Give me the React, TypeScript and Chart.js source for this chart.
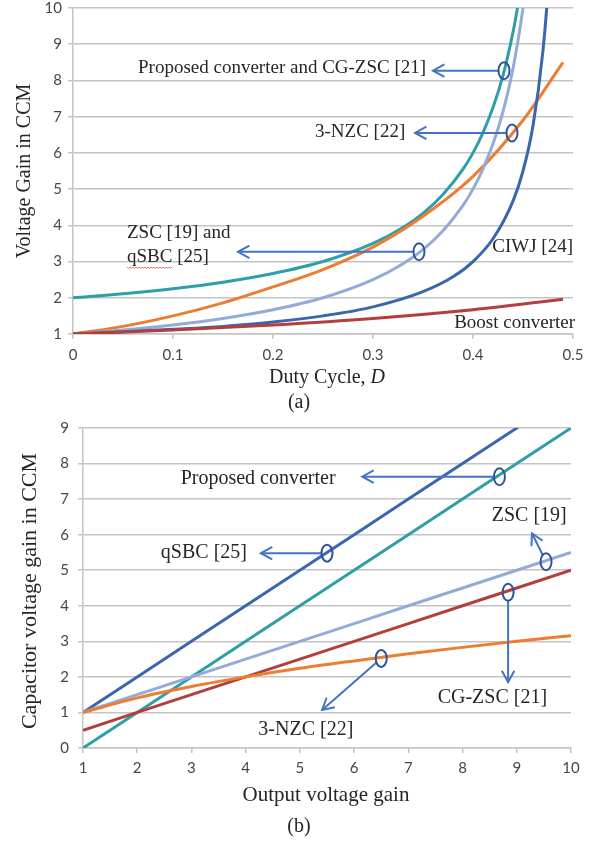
import React, { useEffect, useRef } from "react";
import { Chart, registerables } from "chart.js";

Chart.register(...registerables);

const SERIF = '"Liberation Serif", "Times New Roman", serif';
const SANS = 'Lato, "Open Sans", sans-serif';
const TEXT = "#262626";
const TICK = "#474747";
const GRID = "#c4c4c4";
const ARROW = "#4472c4";
const RING = "#2f5597";

const TEAL = "#2f9ea8";
const ORANGE = "#ec7d31";
const LIGHT_BLUE = "#93abd6";
const DARK_BLUE = "#3a67ab";
const RED = "#b23f3c";

// ---- (a) Voltage gain in CCM versus duty cycle D ----
const dutyProposed = [0, 0.05, 0.1, 0.15, 0.2, 0.25, 0.3, 0.33, 0.35, 0.37, 0.39, 0.4, 0.41, 0.42, 0.43, 0.44, 0.445, 0.45];
const gainProposed = [2.0, 2.11, 2.25, 2.43, 2.67, 3.0, 3.5, 3.94, 4.33, 4.85, 5.55, 6.0, 6.56, 7.25, 8.14, 9.33, 10.09, 11.0];

const dutyZsc = [0, 0.05, 0.1, 0.15, 0.2, 0.25, 0.3, 0.33, 0.35, 0.37, 0.39, 0.4, 0.41, 0.42, 0.43, 0.44, 0.45, 0.455];
const gainZsc = [1.0, 1.11, 1.25, 1.43, 1.67, 2.0, 2.5, 2.94, 3.33, 3.85, 4.55, 5.0, 5.56, 6.25, 7.14, 8.33, 10.0, 11.11];

const dutyNzc = [0, 0.05, 0.1, 0.15, 0.2, 0.25, 0.3, 0.35, 0.4, 0.45, 0.49];
const gainNzc = [1.0, 1.21, 1.5, 1.86, 2.3, 2.78, 3.4, 4.25, 5.35, 6.9, 8.5];

const dutyCiwj = [0, 0.05, 0.1, 0.15, 0.2, 0.25, 0.3, 0.35, 0.38, 0.4, 0.42, 0.44, 0.45, 0.46, 0.47, 0.475, 0.48];
const gainCiwj = [1.0, 1.06, 1.13, 1.21, 1.33, 1.5, 1.75, 2.17, 2.58, 3.0, 3.63, 4.67, 5.5, 6.75, 8.83, 10.5, 13.0];

const dutyBoost = [0, 0.1, 0.2, 0.3, 0.4, 0.49];
const gainBoost = [1.0, 1.11, 1.25, 1.43, 1.67, 1.96];

// ---- (b) Capacitor voltage gain versus output voltage gain ----
const outputGain = [1, 2, 3, 4, 5, 6, 7, 8, 9, 10];
const capQsbc = [1, 2, 3, 4, 5, 6, 7, 8, 9, 10];
const capProposed = [0, 1, 2, 3, 4, 5, 6, 7, 8, 9];
const capZsc = [1, 1.5, 2, 2.5, 3, 3.5, 4, 4.5, 5, 5.5];
const capCgZsc = [0.5, 1, 1.5, 2, 2.5, 3, 3.5, 4, 4.5, 5];
const capNzc = [1, 1.41, 1.73, 2, 2.24, 2.45, 2.65, 2.83, 3, 3.16];

type Pt = { x: number; y: number };
const pair = (xs: number[], ys: number[]): Pt[] => xs.map((x, i) => ({ x, y: ys[i] }));

type Note = { lines: string[]; x: number; y: number; align: CanvasTextAlign; wavy?: string };
type Pointer = { ring: [number, number]; tip: [number, number] };
type Label = { text: string; x: number; y: number; size: number; italicTail?: string };

type Frame = {
  notes: Note[];
  pointers: Pointer[];
  noteSize: number;
  lineGap: number;
  xTitle: Label;
  yTitle: Label;
  caption: Label;
};

const notesA: Note[] = [
  { lines: ["Proposed converter and CG-ZSC [21]"], x: 0.065, y: 8.33, align: "left" },
  { lines: ["3-NZC [22]"], x: 0.242, y: 6.58, align: "left" },
  { lines: ["ZSC [19] and", "qSBC [25]"], x: 0.054, y: 3.79, align: "left", wavy: "qSBC" },
  { lines: ["CIWJ [24]"], x: 0.5, y: 3.4, align: "right" },
  { lines: ["Boost converter"], x: 0.502, y: 1.3, align: "right" },
];
const pointersA: Pointer[] = [
  { ring: [0.431, 8.27], tip: [0.36, 8.27] },
  { ring: [0.439, 6.55], tip: [0.342, 6.55] },
  { ring: [0.346, 3.27], tip: [0.165, 3.27] },
];

const notesB: Note[] = [
  { lines: ["Proposed converter"], x: 4.23, y: 7.56, align: "center" },
  { lines: ["qSBC [25]"], x: 3.23, y: 5.48, align: "center" },
  { lines: ["ZSC [19]"], x: 9.23, y: 6.54, align: "center" },
  { lines: ["CG-ZSC [21]"], x: 8.55, y: 1.4, align: "center" },
  { lines: ["3-NZC [22]"], x: 5.11, y: 0.51, align: "center" },
];
const pointersB: Pointer[] = [
  { ring: [8.68, 7.63], tip: [6.15, 7.63] },
  { ring: [5.5, 5.48], tip: [4.28, 5.48] },
  { ring: [9.54, 5.24], tip: [9.28, 6.04] },
  { ring: [8.84, 4.38], tip: [8.84, 1.85] },
  { ring: [6.5, 2.52], tip: [5.41, 1.07] },
];

const RX = 5.5;
const RY = 8.5;
const HEAD = 13;

function drawLabel(ctx: CanvasRenderingContext2D, l: Label, rotate = false) {
  ctx.save();
  ctx.translate(l.x, l.y);
  if (rotate) ctx.rotate(-Math.PI / 2);
  ctx.textBaseline = "middle";
  ctx.fillStyle = TEXT;
  const normal = `${l.size}px ${SERIF}`;
  const italic = `italic ${l.size}px ${SERIF}`;
  ctx.font = normal;
  const w1 = ctx.measureText(l.text).width;
  let w2 = 0;
  if (l.italicTail) {
    ctx.font = italic;
    w2 = ctx.measureText(l.italicTail).width;
  }
  const start = -(w1 + w2) / 2;
  ctx.textAlign = "left";
  ctx.font = normal;
  ctx.fillText(l.text, start, 0);
  if (l.italicTail) {
    ctx.font = italic;
    ctx.fillText(l.italicTail, start + w1, 0);
  }
  ctx.restore();
}

const overlay = (frame: Frame) => ({
  id: "overlay",
  afterDraw(chart: any) {
    const { ctx, scales } = chart;
    const sx = scales.x;
    const sy = scales.y;
    ctx.save();

    // call-out texts
    ctx.font = `${frame.noteSize}px ${SERIF}`;
    ctx.fillStyle = TEXT;
    ctx.textBaseline = "middle";
    for (const n of frame.notes) {
      const px = sx.getPixelForValue(n.x);
      const py = sy.getPixelForValue(n.y);
      ctx.textAlign = n.align;
      n.lines.forEach((line, i) => {
        const ly = py + i * frame.lineGap;
        ctx.fillText(line, px, ly);
        if (n.wavy && line.startsWith(n.wavy)) {
          const w = ctx.measureText(n.wavy).width;
          ctx.save();
          ctx.strokeStyle = "rgba(220,70,70,0.75)";
          ctx.lineWidth = 1;
          ctx.beginPath();
          for (let k = 0; k <= w; k += 1.5) {
            const wy = ly + 10 + (Math.round(k / 1.5) % 2 === 0 ? 0 : 1.5);
            if (k === 0) ctx.moveTo(px + k, wy);
            else ctx.lineTo(px + k, wy);
          }
          ctx.stroke();
          ctx.restore();
        }
      });
    }

    // arrows with rings on the curves
    ctx.lineWidth = 2;
    for (const p of frame.pointers) {
      const cx = sx.getPixelForValue(p.ring[0]);
      const cy = sy.getPixelForValue(p.ring[1]);
      const tx = sx.getPixelForValue(p.tip[0]);
      const ty = sy.getPixelForValue(p.tip[1]);
      const dx = tx - cx;
      const dy = ty - cy;
      const len = Math.hypot(dx, dy);
      const ux = dx / len;
      const uy = dy / len;
      const t = 1 / Math.sqrt((ux / RX) ** 2 + (uy / RY) ** 2);
      ctx.strokeStyle = ARROW;
      ctx.beginPath();
      ctx.moveTo(cx + ux * t, cy + uy * t);
      ctx.lineTo(tx, ty);
      ctx.stroke();
      const back = Math.atan2(-uy, -ux);
      ctx.beginPath();
      ctx.moveTo(tx + Math.cos(back + 0.5) * HEAD, ty + Math.sin(back + 0.5) * HEAD);
      ctx.lineTo(tx, ty);
      ctx.lineTo(tx + Math.cos(back - 0.5) * HEAD, ty + Math.sin(back - 0.5) * HEAD);
      ctx.stroke();
      ctx.strokeStyle = RING;
      ctx.beginPath();
      ctx.ellipse(cx, cy, RX, RY, 0, 0, Math.PI * 2);
      ctx.stroke();
    }
    ctx.restore();

    drawLabel(ctx, frame.xTitle);
    drawLabel(ctx, frame.yTitle, true);
    drawLabel(ctx, frame.caption);
  },
});

const line = (data: Pt[], color: string, smooth: boolean) => ({
  data,
  borderColor: color,
  backgroundColor: color,
  borderWidth: 3,
  pointRadius: 0,
  fill: false,
  cubicInterpolationMode: smooth ? ("monotone" as const) : ("default" as const),
  tension: 0,
});

type AxisSpec = {
  xMin: number; xMax: number; xStep: number;
  yMin: number; yMax: number; yStep: number;
  yWidth: number; xHeight: number;
  yPad: number; xPad: number;
};

function makeOptions(a: AxisSpec, padding: any) {
  const tickFont = { family: SANS, size: 15 };
  return {
    responsive: false,
    animation: false as const,
    layout: { padding },
    plugins: { legend: { display: false }, tooltip: { enabled: false } },
    scales: {
      x: {
        type: "linear" as const,
        min: a.xMin,
        max: a.xMax,
        afterFit: (s: any) => {
          s.height = a.xHeight;
          s.paddingLeft = 0;
          s.paddingRight = 0;
        },
        ticks: { stepSize: a.xStep, font: tickFont, color: TICK, padding: a.xPad, maxRotation: 0 },
        grid: { drawOnChartArea: false, drawTicks: true, tickLength: 5, color: GRID, lineWidth: 1.5 },
        border: { display: true, color: GRID, width: 1.5 },
      },
      y: {
        type: "linear" as const,
        min: a.yMin,
        max: a.yMax,
        afterFit: (s: any) => {
          s.width = a.yWidth;
          s.paddingTop = 0;
          s.paddingBottom = 0;
        },
        ticks: { stepSize: a.yStep, font: tickFont, color: TICK, padding: a.yPad },
        grid: { color: GRID, lineWidth: 1.5, tickLength: 5 },
        border: { display: true, color: GRID, width: 1.5 },
      },
    },
  };
}

function ChartA() {
  const ref = useRef<HTMLCanvasElement>(null);
  useEffect(() => {
    const chart = new Chart(ref.current!, {
      type: "line",
      data: {
        datasets: [
          line(pair(dutyBoost, gainBoost), RED, true),
          line(pair(dutyCiwj, gainCiwj), DARK_BLUE, true),
          line(pair(dutyZsc, gainZsc), LIGHT_BLUE, true),
          line(pair(dutyNzc, gainNzc), ORANGE, true),
          line(pair(dutyProposed, gainProposed), TEAL, true),
        ],
      },
      options: makeOptions(
        { xMin: 0, xMax: 0.5, xStep: 0.1, yMin: 1, yMax: 10, yStep: 1, yWidth: 73, xHeight: 81, yPad: 6, xPad: 7 },
        { top: 8, right: 27, bottom: 0, left: 0 }
      ) as any,
      plugins: [
        overlay({
          notes: notesA,
          pointers: pointersA,
          noteSize: 19,
          lineGap: 24,
          xTitle: { text: "Duty Cycle, ", italicTail: "D", x: 327, y: 378, size: 20 },
          yTitle: { text: "Voltage Gain in CCM", x: 25, y: 171, size: 20 },
          caption: { text: "(a)", x: 299, y: 403, size: 20 },
        }),
      ],
    });
    return () => chart.destroy();
  }, []);
  return <canvas ref={ref} width={600} height={415} style={{ position: "absolute", left: 0, top: 0 }} />;
}

function ChartB() {
  const ref = useRef<HTMLCanvasElement>(null);
  useEffect(() => {
    const chart = new Chart(ref.current!, {
      type: "line",
      data: {
        datasets: [
          line(pair(outputGain, capNzc), ORANGE, true),
          line(pair(outputGain, capCgZsc), RED, false),
          line(pair(outputGain, capZsc), LIGHT_BLUE, false),
          line(pair(outputGain, capProposed), TEAL, false),
          line(pair(outputGain, capQsbc), DARK_BLUE, false),
        ],
      },
      options: makeOptions(
        { xMin: 1, xMax: 10, xStep: 1, yMin: 0, yMax: 9, yStep: 1, yWidth: 83, xHeight: 93, yPad: 9, xPad: 6 },
        { top: 13, right: 29, bottom: 0, left: 0 }
      ) as any,
      plugins: [
        overlay({
          notes: notesB,
          pointers: pointersB,
          noteSize: 20,
          lineGap: 24,
          xTitle: { text: "Output voltage gain", x: 326, y: 380, size: 21 },
          yTitle: { text: "Capacitor voltage gain in CCM", x: 30, y: 176, size: 22 },
          caption: { text: "(b)", x: 299, y: 412, size: 20 },
        }),
      ],
    });
    return () => chart.destroy();
  }, []);
  return <canvas ref={ref} width={600} height={426} style={{ position: "absolute", left: 0, top: 415 }} />;
}

export default function App() {
  return (
    <div style={{ position: "absolute", left: 0, top: 0, width: 600, height: 841, background: "#fff" }}>
      <ChartA />
      <ChartB />
    </div>
  );
}
